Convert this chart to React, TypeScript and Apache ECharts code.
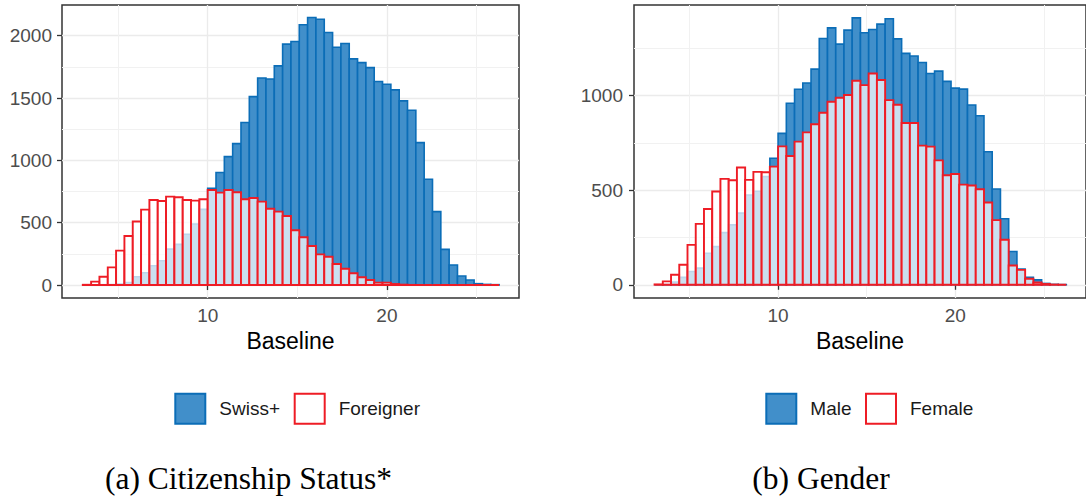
import React, { useEffect, useRef } from 'react';
import * as echarts from 'echarts';

// Histogram bins (shared by both panels)
const BIN_START = 3.03;
const BIN_WIDTH = 0.4646;

// Panel (a): Citizenship Status
const swissCounts = [0, 1, 3, 4, 8, 20, 66, 99, 155, 195, 288, 326, 407, 490, 607, 776, 902, 1030, 1134, 1303, 1511, 1660, 1652, 1758, 1932, 1953, 2087, 2146, 2132, 2025, 1907, 1937, 1814, 1784, 1744, 1632, 1610, 1565, 1477, 1402, 1142, 848, 589, 286, 161, 72, 40, 11, 5, 3];
const foreignerCounts = [2, 27, 67, 142, 276, 393, 510, 605, 682, 674, 709, 704, 682, 677, 688, 762, 741, 762, 744, 688, 698, 669, 612, 589, 554, 439, 383, 313, 246, 227, 169, 131, 94, 62, 40, 19, 19, 8, 3, 1, 0, 0, 0, 0, 0, 0, 0, 0, 0, 0];

// Panel (b): Gender
const maleCounts = [0, 2, 14, 39, 70, 88, 167, 202, 276, 317, 379, 475, 495, 572, 669, 801, 960, 1034, 1067, 1141, 1303, 1359, 1273, 1347, 1412, 1333, 1350, 1379, 1407, 1301, 1224, 1210, 1176, 1118, 1130, 1076, 1040, 1035, 951, 894, 704, 507, 349, 176, 83, 40, 26, 7, 2, 1];
const femaleCounts = [2, 18, 53, 106, 211, 322, 401, 493, 560, 553, 620, 555, 597, 595, 625, 732, 681, 757, 806, 849, 910, 968, 989, 1004, 1079, 1056, 1118, 1083, 977, 952, 856, 856, 736, 731, 658, 579, 586, 530, 525, 505, 435, 342, 238, 102, 79, 32, 12, 4, 1, 0];

// Axis ticks
const xMajorTicks = [10, 20];
const xMinorTicks = [5, 15, 25];
const leftYMajor = [0, 500, 1000, 1500, 2000];
const leftYMinor = [250, 750, 1250, 1750];
const rightYMajor = [0, 500, 1000];
const rightYMinor = [250, 750, 1250];

const X_MIN = 1.87;
const X_MAX = 27.37;
const LEFT_Y = [-104, 2246];
const RIGHT_Y = [-70, 1480];

const xTitle = 'Baseline';
const captions = ['(a) Citizenship Status*', '(b) Gender'];
const seriesNames = ['Swiss+', 'Foreigner', 'Male', 'Female'];

const SANS = '"Liberation Sans", Arial, Helvetica, sans-serif';
const SERIF = '"Liberation Serif", "Times New Roman", serif';

const BLUE_FILL = '#418fca';
const BLUE_STROKE = '#0b6db7';
const RED_STROKE = '#ee1c25';
const WHITE_FILL = 'rgba(255,255,255,0.72)';

const plainNumber = (v: number) => String(v);

function toBins(counts: number[]) {
  return counts.map((c, i) => [BIN_START + i * BIN_WIDTH, BIN_START + (i + 1) * BIN_WIDTH, c]);
}

function makeRender(fill: string, stroke: string, lw: number) {
  return (params: any, api: any) => {
    const x0 = api.value(0);
    const x1 = api.value(1);
    const y = api.value(2);
    const a = api.coord([x0, y]);
    const b = api.coord([x1, 0]);
    return {
      type: 'rect',
      shape: { x: a[0], y: a[1], width: b[0] - a[0], height: b[1] - a[1] },
      style: { fill, stroke, lineWidth: lw },
    };
  };
}

function histSeries(name: string, counts: number[], axisIdx: number, isRed: boolean) {
  return {
    type: 'custom',
    name,
    xAxisIndex: axisIdx,
    yAxisIndex: axisIdx,
    dimensions: ['x0', 'x1', 'count'],
    encode: { x: [0, 1], y: 2 },
    renderItem: isRed ? makeRender(WHITE_FILL, RED_STROKE, 1.9) : makeRender(BLUE_FILL, BLUE_STROKE, 1.6),
    itemStyle: { color: isRed ? '#ffffff' : BLUE_FILL },
    data: toBins(counts),
    z: isRed ? 3 : 2,
  };
}

function mainX(grid: number) {
  return {
    type: 'value',
    gridIndex: grid,
    min: X_MIN,
    max: X_MAX,
    position: 'bottom',
    axisLine: { show: false },
    axisTick: { show: true, length: 5, lineStyle: { color: '#333333', width: 1.3 }, customValues: xMajorTicks },
    axisLabel: { customValues: xMajorTicks, formatter: plainNumber, color: '#4d4d4d', fontSize: 19, margin: 8, fontFamily: SANS },
    splitLine: { show: true, lineStyle: { color: '#ebebeb', width: 1.3 } },
    name: xTitle,
    nameLocation: 'middle',
    nameGap: 31,
    nameTextStyle: { color: '#000000', fontSize: 23, fontFamily: SANS },
  };
}

function minorX(grid: number) {
  return {
    type: 'value',
    gridIndex: grid,
    min: X_MIN,
    max: X_MAX,
    position: 'top',
    axisLine: { show: false },
    axisTick: { show: false, customValues: xMinorTicks },
    axisLabel: { show: false, customValues: xMinorTicks },
    splitLine: { show: true, lineStyle: { color: '#f1f1f1', width: 1 } },
  };
}

function mainY(grid: number, range: number[], ticks: number[], margin: number) {
  return {
    type: 'value',
    gridIndex: grid,
    min: range[0],
    max: range[1],
    position: 'left',
    axisLine: { show: false },
    axisTick: { show: true, length: 5, lineStyle: { color: '#333333', width: 1.3 }, customValues: ticks },
    axisLabel: { customValues: ticks, formatter: plainNumber, color: '#4d4d4d', fontSize: 19, margin, fontFamily: SANS },
    splitLine: { show: true, lineStyle: { color: '#ebebeb', width: 1.3 } },
  };
}

function minorY(grid: number, range: number[], ticks: number[]) {
  return {
    type: 'value',
    gridIndex: grid,
    min: range[0],
    max: range[1],
    position: 'right',
    axisLine: { show: false },
    axisTick: { show: false, customValues: ticks },
    axisLabel: { show: false, customValues: ticks },
    splitLine: { show: true, lineStyle: { color: '#f1f1f1', width: 1 } },
  };
}

function legendFor(name: string, left: number, isRed: boolean) {
  return {
    left,
    top: 392.7,
    padding: 0,
    itemWidth: 30,
    itemHeight: 30,
    icon: 'rect',
    selectedMode: false,
    data: [
      {
        name,
        itemStyle: isRed
          ? { color: '#ffffff', borderColor: RED_STROKE, borderWidth: 2 }
          : { color: BLUE_FILL, borderColor: BLUE_STROKE, borderWidth: 2 },
      },
    ],
    textStyle: { fontSize: 19, color: '#1a1a1a', fontFamily: SANS, padding: [0, 0, 0, 9] },
  };
}

export default function App() {
  const ref = useRef<HTMLDivElement>(null);
  useEffect(() => {
    if (!ref.current) return;
    const chart = echarts.init(ref.current, null, { renderer: 'svg' });
    const option: any = {
      animation: false,
      backgroundColor: '#ffffff',
      grid: [
        { left: 62, top: 5, width: 457, height: 293, show: true, borderColor: '#333333', borderWidth: 1.5, backgroundColor: 'transparent' },
        { left: 634, top: 5, width: 457, height: 293, show: true, borderColor: '#333333', borderWidth: 1.5, backgroundColor: 'transparent' },
      ],
      xAxis: [mainX(0), minorX(0), mainX(1), minorX(1)],
      yAxis: [
        mainY(0, LEFT_Y, leftYMajor, 10),
        minorY(0, LEFT_Y, leftYMinor),
        mainY(1, RIGHT_Y, rightYMajor, 11),
        minorY(1, RIGHT_Y, rightYMinor),
      ],
      legend: [
        legendFor(seriesNames[0], 174.3, false),
        legendFor(seriesNames[1], 293.7, true),
        legendFor(seriesNames[2], 765.3, false),
        legendFor(seriesNames[3], 865, true),
      ],
      series: [
        histSeries(seriesNames[0], swissCounts, 0, false),
        histSeries(seriesNames[1], foreignerCounts, 0, true),
        histSeries(seriesNames[2], maleCounts, 2, false),
        histSeries(seriesNames[3], femaleCounts, 2, true),
      ],
      graphic: [
        {
          type: 'text',
          x: 248.5,
          y: 478,
          style: { text: captions[0], fontSize: 31.5, fontFamily: SERIF, fill: '#000000', align: 'center', verticalAlign: 'middle' },
        },
        {
          type: 'text',
          x: 821,
          y: 478,
          style: { text: captions[1], fontSize: 31.5, fontFamily: SERIF, fill: '#000000', align: 'center', verticalAlign: 'middle' },
        },
      ],
    };
    chart.setOption(option);
    return () => chart.dispose();
  }, []);
  return (
    <div
      ref={ref}
      style={{ position: 'fixed', left: 0, top: 0, width: 1086, height: 499, background: '#ffffff' }}
    />
  );
}
